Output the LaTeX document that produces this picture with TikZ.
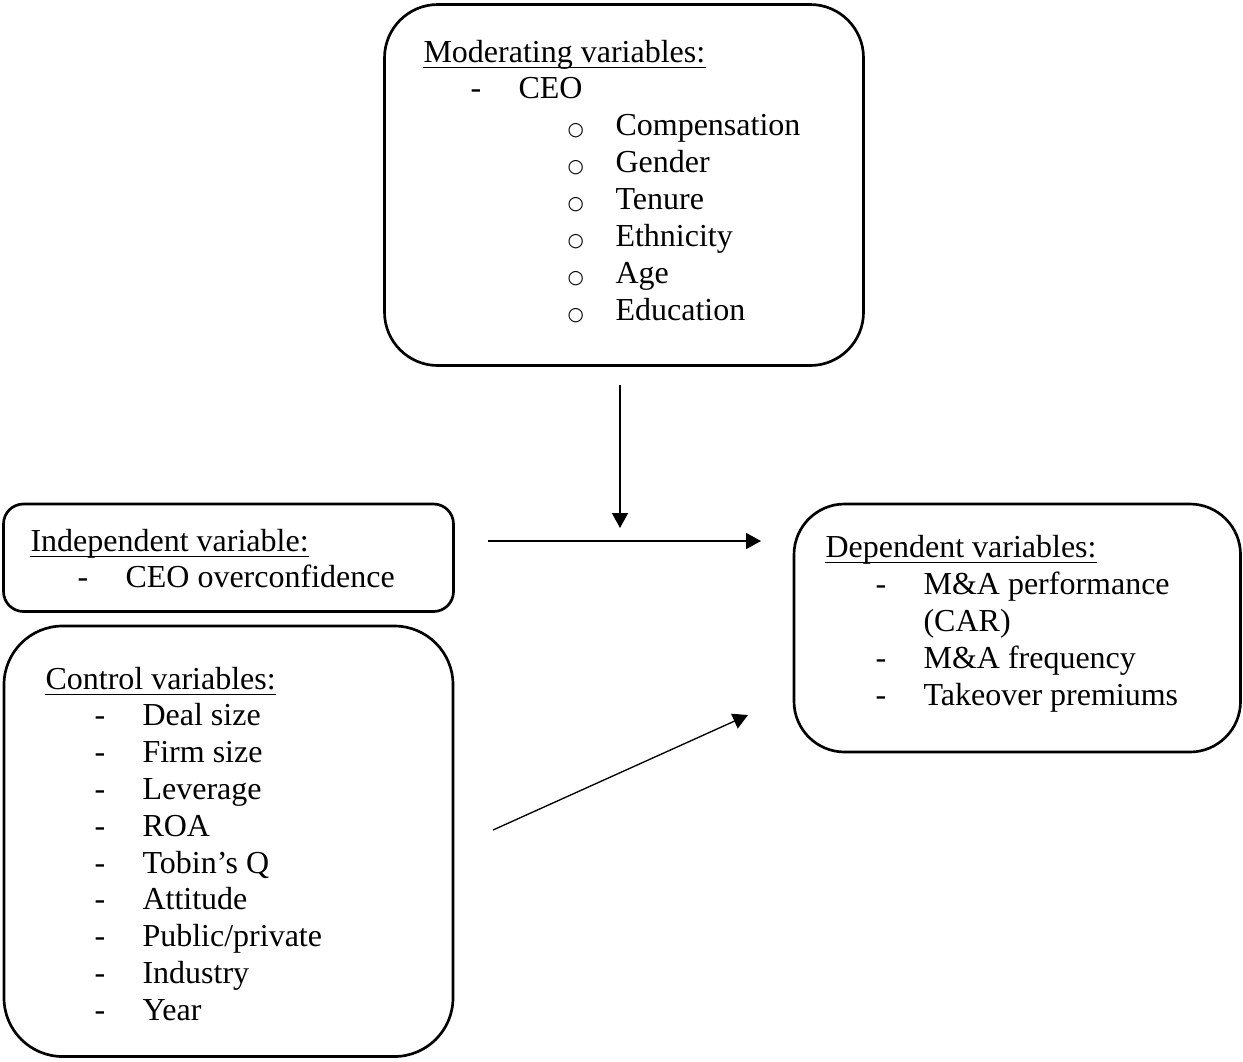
\documentclass[tikz,border=0pt]{standalone}
\usepackage{fontspec}
\setmainfont{Liberation Serif}
\newfontfamily\symfont{DejaVu Sans}
\usetikzlibrary{arrows.meta}

\newcommand{\dashmark}{\llap{\makebox[18pt][l]{-}}}
\newcommand{\circmark}{\llap{\makebox[18pt][l]{\symfont\fontsize{7}{7}\selectfont ○}}}

\begin{document}
\begin{tikzpicture}[
	x=0.375pt,
	y=-0.375pt,
	box/.style={draw, line width=1pt},
	entry/.style={anchor=base west, inner sep=0pt, font=\fontsize{12}{13.8}\selectfont},
	underline/.style={line width=0.45pt},
	link/.style={-{Triangle[length=5.6pt,width=6pt]}, line width=0.5pt}]

\useasboundingbox (0,0) rectangle (1243,1061);

% Moderating variables
\draw[box, rounded corners=20pt] (384.5,4.5) rectangle (863.5,365.5);
\node[entry] (modtitle) at (423,62) {Moderating variables:};
\node[entry] (ceo) at (518,98.9) {\dashmark CEO};
\node[entry] (comp) at (615,135.7) {\circmark Compensation};
\node[entry] (gender) at (615,172.6) {\circmark Gender};
\node[entry] (tenure) at (615,209.4) {\circmark Tenure};
\node[entry] (ethnic) at (615,246.3) {\circmark Ethnicity};
\node[entry] (age) at (615,283.1) {\circmark Age};
\node[entry] (educ) at (615,320) {\circmark Education};
\draw[underline] ([yshift=-2pt]modtitle.base west) -- ([yshift=-2pt]modtitle.base east);

% Independent variable
\draw[box, rounded corners=7.5pt] (3.5,504) rectangle (453.5,611.5);
\node[entry] (indtitle) at (30,551) {Independent variable:};
\node[entry] (overconf) at (125,587) {\dashmark CEO overconfidence};
\draw[underline] ([yshift=-2pt]indtitle.base west) -- ([yshift=-2pt]indtitle.base east);

% Control variables
\draw[box, rounded corners=22pt] (4,626) rectangle (453,1056.5);
\node[entry] (ctrltitle) at (45,689) {Control variables:};
\node[entry] (dealsize) at (142,725.8) {\dashmark Deal size};
\node[entry] (firmsize) at (142,762.6) {\dashmark Firm size};
\node[entry] (leverage) at (142,799.4) {\dashmark Leverage};
\node[entry] (roa) at (142,836.2) {\dashmark ROA};
\node[entry] (tobin) at (142,873) {\dashmark Tobin’s Q};
\node[entry] (attitude) at (142,909.8) {\dashmark Attitude};
\node[entry] (public) at (142,946.6) {\dashmark Public/private};
\node[entry] (industry) at (142,983.4) {\dashmark Industry};
\node[entry] (year) at (142,1020.2) {\dashmark Year};
\draw[underline] ([yshift=-2pt]ctrltitle.base west) -- ([yshift=-2pt]ctrltitle.base east);

% Dependent variables
\draw[box, rounded corners=19pt] (794,504) rectangle (1240.5,752);
\node[entry] (deptitle) at (825,557) {Dependent variables:};
\node[entry] (perf) at (923,594) {\dashmark M\&A performance};
\node[entry] (car) at (923,631) {(CAR)};
\node[entry] (freq) at (923,668) {\dashmark M\&A frequency};
\node[entry] (premium) at (923,705) {\dashmark Takeover premiums};
\draw[underline] ([yshift=-2pt]deptitle.base west) -- ([yshift=-2pt]deptitle.base east);

% arrows
\coordinate (modfoot) at (620,385);
\coordinate (modtip) at (620,528);
\coordinate (indend) at (488,541);
\coordinate (deptip) at (761,541);
\coordinate (ctrlend) at (493,830);
\coordinate (ctrltip) at (748,715);

\draw[link] (modfoot) -- (modtip);
\draw[link] (indend) -- (deptip);
\draw[link] (ctrlend) -- (ctrltip);

\end{tikzpicture}
\end{document}
